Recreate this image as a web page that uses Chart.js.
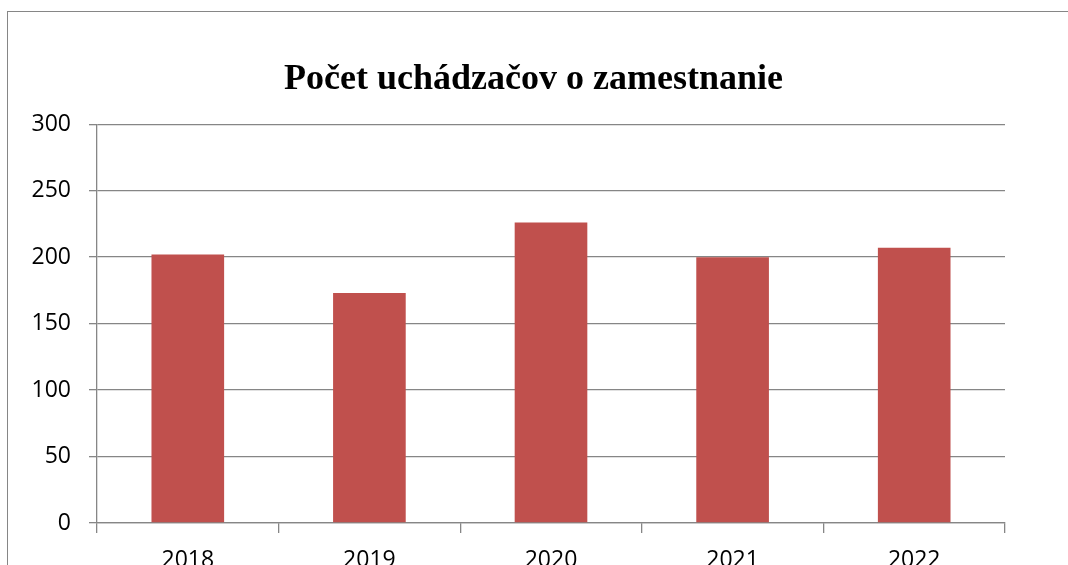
<!DOCTYPE html>
<html>
<head>
<meta charset="utf-8">
<script src="https://cdn.jsdelivr.net/npm/chart.js@4/dist/chart.umd.min.js"></script>
<style>
    html, body { margin: 0; padding: 0; background: #fff; }
    canvas { display: block; }
</style>
</head>
<body>
<canvas id="chart" width="1068" height="565"></canvas>
<script>
const chartTitle = 'Počet uchádzačov o zamestnanie';
const years = ['2018', '2019', '2020', '2021', '2022'];
const applicants = [202, 173, 226, 200, 207];
const yTicks = [0, 50, 100, 150, 200, 250, 300];

const BAR_COLOR = '#C0504D';
const LINE_COLOR = '#868686';
const TICK_FONT = { family: '"Open Sans", sans-serif', size: 23 };

// frame round the whole chart (only left and top edges fall inside the picture)
const framePlugin = {
    id: 'frame',
    beforeDraw(chart) {
        const ctx = chart.ctx;
        ctx.save();
        ctx.strokeStyle = LINE_COLOR;
        ctx.lineWidth = 1;
        ctx.strokeRect(7.5, 11.5, 2000, 2000);
        ctx.restore();
    }
};

// title is centred on the whole frame, not on the plot area
const titleShift = {
    id: 'titleShift',
    afterLayout(chart) {
        const t = chart.titleBlock;
        if (!t) return;
        t.left += 31;
        t.right += 31;
    }
};

new Chart(document.getElementById('chart'), {
    type: 'bar',
    data: {
        labels: years,
        datasets: [{
            data: applicants,
            backgroundColor: BAR_COLOR,
            borderWidth: 0,
            barPercentage: 0.4,
            categoryPercentage: 1
        }]
    },
    options: {
        responsive: false,
        animation: false,
        layout: { padding: { left: 0, right: 63, top: 0, bottom: 0 } },
        plugins: {
            legend: { display: false },
            tooltip: { enabled: false },
            title: {
                display: true,
                text: chartTitle,
                color: '#000',
                font: { family: '"Liberation Serif", "Times New Roman", serif', size: 36, weight: 'bold', lineHeight: 1.2 },
                padding: { top: 58, bottom: 23 }
            }
        },
        scales: {
            x: {
                offset: true,
                grid: {
                    offset: true,
                    drawOnChartArea: false,
                    drawTicks: true,
                    tickLength: 10,
                    color: LINE_COLOR,
                    lineWidth: 1.3
                },
                border: { color: LINE_COLOR, width: 1.3 },
                ticks: { color: '#000', font: TICK_FONT, padding: 14, maxRotation: 0 },
                afterFit(scale) { scale.height = 42; }
            },
            y: {
                min: 0,
                max: 300,
                afterBuildTicks(scale) { scale.ticks = yTicks.map(v => ({ value: v })); },
                grid: {
                    color: LINE_COLOR,
                    lineWidth: 1.3,
                    drawTicks: true,
                    tickLength: 8
                },
                border: { color: LINE_COLOR, width: 1.3 },
                ticks: { color: '#000', font: TICK_FONT, padding: 18 },
                afterFit(scale) { scale.width = 97; }
            }
        }
    },
    plugins: [framePlugin, titleShift]
});
</script>
</body>
</html>
